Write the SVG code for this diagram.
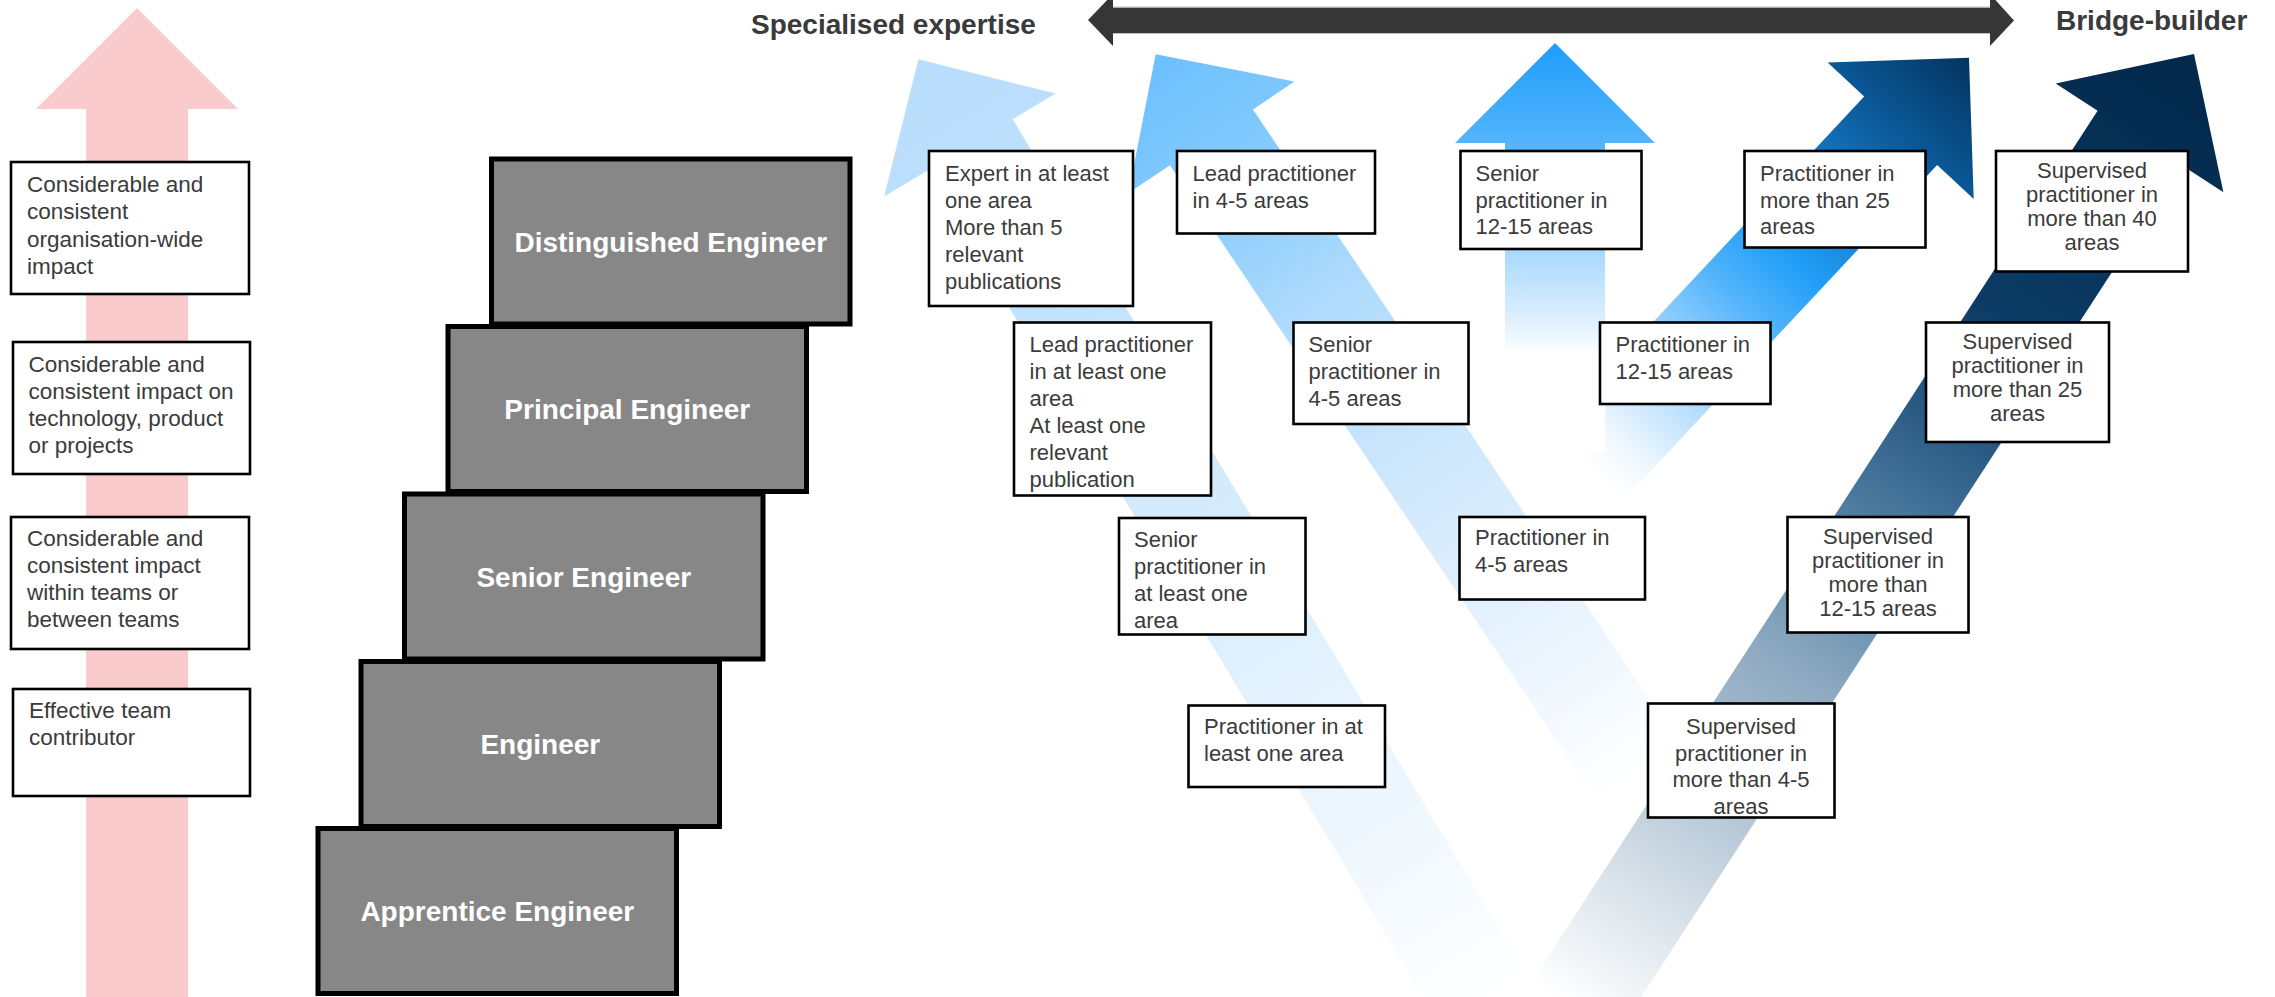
<svg xmlns="http://www.w3.org/2000/svg" width="2275" height="997" viewBox="0 0 2275 997">
  <defs>
    <style>
      .t { font-family: "Liberation Sans", Arial, sans-serif; font-size: 22px; fill: #3b3b3b; }
      .lt { font-size: 22.5px; }
      .c { text-anchor: middle; }
      .box { fill: #ffffff; stroke: #000000; stroke-width: 2.6; }
      .step { fill: #878787; stroke: #000000; stroke-width: 5; }
      .stept { font-family: "Liberation Sans", Arial, sans-serif; font-weight: bold; font-size: 28px; fill: #ffffff; text-anchor: middle; }
      .label { font-family: "Liberation Sans", Arial, sans-serif; font-weight: bold; font-size: 28px; fill: #3a3a3a; }
    </style>
    <!-- gradients are in each arrow's local frame: tip at 0, tail at +y -->
    <linearGradient id="g1" gradientUnits="userSpaceOnUse" x1="0" y1="0" x2="0" y2="1110">
      <stop offset="0" stop-color="#b8ddfc"/>
      <stop offset="0.25" stop-color="#c1e2fc"/>
      <stop offset="0.5" stop-color="#d6ecfd"/>
      <stop offset="0.75" stop-color="#eaf5fe"/>
      <stop offset="1" stop-color="#ffffff"/>
    </linearGradient>
    <linearGradient id="g2" gradientUnits="userSpaceOnUse" x1="0" y1="0" x2="0" y2="870">
      <stop offset="0" stop-color="#6bbffe"/>
      <stop offset="0.15" stop-color="#82cafd"/>
      <stop offset="0.35" stop-color="#b0dbfc"/>
      <stop offset="0.55" stop-color="#cde7fc"/>
      <stop offset="0.8" stop-color="#e9f4fe"/>
      <stop offset="1" stop-color="#ffffff"/>
    </linearGradient>
    <linearGradient id="g3" gradientUnits="userSpaceOnUse" x1="0" y1="0" x2="0" y2="410">
      <stop offset="0" stop-color="#1f9dfa"/>
      <stop offset="0.24" stop-color="#52b4fd"/>
      <stop offset="0.5" stop-color="#a5d8fc"/>
      <stop offset="0.62" stop-color="#cbe8fd"/>
      <stop offset="0.72" stop-color="#eef7fe"/>
      <stop offset="0.76" stop-color="#ffffff"/>
      <stop offset="1" stop-color="#ffffff"/>
    </linearGradient>
    <linearGradient id="g4" gradientUnits="userSpaceOnUse" x1="0" y1="0" x2="0" y2="560">
      <stop offset="0" stop-color="#02355f"/>
      <stop offset="0.18" stop-color="#0b5898"/>
      <stop offset="0.32" stop-color="#1478c4"/>
      <stop offset="0.48" stop-color="#219ef8"/>
      <stop offset="0.6" stop-color="#55b5fc"/>
      <stop offset="0.7" stop-color="#8acbfd"/>
      <stop offset="0.83" stop-color="#c5e5fd"/>
      <stop offset="0.93" stop-color="#f0f8ff"/>
      <stop offset="1" stop-color="#ffffff"/>
    </linearGradient>
    <linearGradient id="g5" gradientUnits="userSpaceOnUse" x1="0" y1="0" x2="0" y2="1140">
      <stop offset="0" stop-color="#02284a"/>
      <stop offset="0.28" stop-color="#0b3b64"/>
      <stop offset="0.36" stop-color="#1f5079"/>
      <stop offset="0.44" stop-color="#3a6a92"/>
      <stop offset="0.53" stop-color="#5a86a8"/>
      <stop offset="0.64" stop-color="#8ca8c0"/>
      <stop offset="0.78" stop-color="#b5c7d6"/>
      <stop offset="0.91" stop-color="#e2e9ef"/>
      <stop offset="1" stop-color="#ffffff"/>
    </linearGradient>
  </defs>

  <rect width="2275" height="997" fill="#ffffff"/>

  <!-- impact scale arrow -->
  <g id="impact-arrow">
    <polygon points="137,8 238,109 188,109 188,997 86,997 86,109 36,109" fill="#f9cbcd"/>
  </g>

  <!-- impact descriptions -->
  <g id="impact-org">
    <rect class="box" x="11" y="162" width="238" height="132"/>
    <text class="t lt"><tspan x="27" y="191.5">Considerable and</tspan><tspan x="27" y="219">consistent</tspan><tspan x="27" y="246.5">organisation-wide</tspan><tspan x="27" y="273.5">impact</tspan></text>
  </g>
  <g id="impact-tech">
    <rect class="box" x="13" y="342" width="237" height="132"/>
    <text class="t lt"><tspan x="28.5" y="371.5">Considerable and</tspan><tspan x="28.5" y="398.8">consistent impact on</tspan><tspan x="28.5" y="426">technology, product</tspan><tspan x="28.5" y="453.3">or projects</tspan></text>
  </g>
  <g id="impact-teams">
    <rect class="box" x="11" y="517" width="238" height="132"/>
    <text class="t lt"><tspan x="27" y="546">Considerable and</tspan><tspan x="27" y="573">consistent impact</tspan><tspan x="27" y="600">within teams or</tspan><tspan x="27" y="627">between teams</tspan></text>
  </g>
  <g id="impact-contributor">
    <rect class="box" x="13" y="689" width="237" height="107"/>
    <text class="t lt"><tspan x="29" y="717.5">Effective team</tspan><tspan x="29" y="744.5">contributor</tspan></text>
  </g>

  <!-- engineering grades as a staircase -->
  <g id="grade-apprentice">
    <rect class="step" x="318" y="828.5" width="358.5" height="165"/>
    <text class="stept" x="497.3" y="921">Apprentice Engineer</text>
  </g>
  <g id="grade-engineer">
    <rect class="step" x="361" y="661.5" width="358.5" height="165"/>
    <text class="stept" x="540.3" y="754">Engineer</text>
  </g>
  <g id="grade-senior">
    <rect class="step" x="404.5" y="494" width="358.5" height="165"/>
    <text class="stept" x="583.8" y="586.5">Senior Engineer</text>
  </g>
  <g id="grade-principal">
    <rect class="step" x="448" y="326.5" width="358.5" height="165"/>
    <text class="stept" x="627.3" y="419">Principal Engineer</text>
  </g>
  <g id="grade-distinguished">
    <rect class="step" x="491.5" y="159" width="358.5" height="165"/>
    <text class="stept" x="670.8" y="251.5">Distinguished Engineer</text>
  </g>

  <!-- specialist / generalist axis -->
  <g id="axis">
    <polygon points="1088,20 1113,-6 1113,7.5 1990,7.5 1990,-6 2014,20.5 1990,46 1990,33 1113,33 1113,46" fill="#363636"/>
    <line x1="1113" y1="7" x2="1990" y2="7" stroke="#bdbdbd" stroke-width="1"/>
    <line x1="1113" y1="33.5" x2="1990" y2="33.5" stroke="#bdbdbd" stroke-width="1"/>
    <text class="label" x="751" y="34">Specialised expertise</text>
    <text class="label" x="2056" y="30">Bridge-builder</text>
  </g>

  <!-- career path arrows -->
  <g id="connectors">
    <polygon transform="translate(1969,57.7) rotate(43.1)" points="0,0 100,100 50,100 50,560 -50,560 -50,100 -100,100" fill="url(#g4)"/>
    <polygon transform="translate(1555,43) rotate(0)" points="0,0 100,100 50,100 50,410 -50,410 -50,100 -100,100" fill="url(#g3)"/>
    <polygon transform="translate(1155.7,54.3) rotate(-33.9)" points="0,0 100,100 50,100 50,870 -50,870 -50,100 -100,100" fill="url(#g2)"/>
    <polygon transform="translate(918.4,59.3) rotate(-31)" points="0,0 100,100 50,100 50,1110 -50,1110 -50,100 -100,100" fill="url(#g1)"/>
    <polygon transform="translate(2194,54) rotate(33)" points="0,0 100,100 50,100 50,1140 -50,1140 -50,100 -100,100" fill="url(#g5)"/>
  </g>

  <!-- skill milestones -->
  <g id="expert-one-area">
    <rect class="box" x="929" y="151" width="204" height="155"/>
    <text class="t"><tspan x="945" y="181">Expert in at least</tspan><tspan x="945" y="208">one area</tspan><tspan x="945" y="235">More than 5</tspan><tspan x="945" y="262">relevant</tspan><tspan x="945" y="289">publications</tspan></text>
  </g>
  <g id="lead-4-5">
    <rect class="box" x="1177" y="151" width="198" height="82.5"/>
    <text class="t"><tspan x="1192.5" y="181">Lead practitioner</tspan><tspan x="1192.5" y="208">in 4-5 areas</tspan></text>
  </g>
  <g id="senior-12-15">
    <rect class="box" x="1460.5" y="151" width="181" height="98"/>
    <text class="t"><tspan x="1475.5" y="181">Senior</tspan><tspan x="1475.5" y="207.5">practitioner in</tspan><tspan x="1475.5" y="234">12-15 areas</tspan></text>
  </g>
  <g id="practitioner-25">
    <rect class="box" x="1744.5" y="151" width="181" height="96.5"/>
    <text class="t"><tspan x="1760" y="181">Practitioner in</tspan><tspan x="1760" y="207.5">more than 25</tspan><tspan x="1760" y="234">areas</tspan></text>
  </g>
  <g id="supervised-40">
    <rect class="box" x="1996" y="151" width="192" height="120.5"/>
    <text class="t c"><tspan x="2092" y="178">Supervised</tspan><tspan x="2092" y="202">practitioner in</tspan><tspan x="2092" y="226">more than 40</tspan><tspan x="2092" y="250">areas</tspan></text>
  </g>

  <g id="lead-one-area">
    <rect class="box" x="1014" y="322.5" width="197" height="173"/>
    <text class="t"><tspan x="1029.5" y="352">Lead practitioner</tspan><tspan x="1029.5" y="379">in at least one</tspan><tspan x="1029.5" y="406">area</tspan><tspan x="1029.5" y="433">At least one</tspan><tspan x="1029.5" y="460">relevant</tspan><tspan x="1029.5" y="487">publication</tspan></text>
  </g>
  <g id="senior-4-5">
    <rect class="box" x="1293.5" y="322.5" width="175" height="101.5"/>
    <text class="t"><tspan x="1308.5" y="352">Senior</tspan><tspan x="1308.5" y="379">practitioner in</tspan><tspan x="1308.5" y="406">4-5 areas</tspan></text>
  </g>
  <g id="practitioner-12-15">
    <rect class="box" x="1600" y="322.5" width="170.5" height="81.5"/>
    <text class="t"><tspan x="1615.5" y="352">Practitioner in</tspan><tspan x="1615.5" y="378.5">12-15 areas</tspan></text>
  </g>
  <g id="supervised-25">
    <rect class="box" x="1926" y="322.5" width="183" height="119.5"/>
    <text class="t c"><tspan x="2017.5" y="349">Supervised</tspan><tspan x="2017.5" y="373">practitioner in</tspan><tspan x="2017.5" y="397">more than 25</tspan><tspan x="2017.5" y="421">areas</tspan></text>
  </g>

  <g id="senior-one-area">
    <rect class="box" x="1119" y="518" width="186.5" height="116.5"/>
    <text class="t"><tspan x="1134" y="546.5">Senior</tspan><tspan x="1134" y="573.5">practitioner in</tspan><tspan x="1134" y="600.5">at least one</tspan><tspan x="1134" y="627.5">area</tspan></text>
  </g>
  <g id="practitioner-4-5">
    <rect class="box" x="1459.5" y="517" width="185.5" height="82.5"/>
    <text class="t"><tspan x="1475" y="545">Practitioner in</tspan><tspan x="1475" y="572">4-5 areas</tspan></text>
  </g>
  <g id="supervised-12-15">
    <rect class="box" x="1787.5" y="517" width="181" height="115.5"/>
    <text class="t c"><tspan x="1878" y="543.5">Supervised</tspan><tspan x="1878" y="567.5">practitioner in</tspan><tspan x="1878" y="591.5">more than</tspan><tspan x="1878" y="615.5">12-15 areas</tspan></text>
  </g>

  <g id="practitioner-one-area">
    <rect class="box" x="1188.5" y="705.5" width="196.5" height="81.5"/>
    <text class="t"><tspan x="1204" y="734">Practitioner in at</tspan><tspan x="1204" y="761">least one area</tspan></text>
  </g>
  <g id="supervised-4-5">
    <rect class="box" x="1648" y="703.5" width="186.5" height="114"/>
    <text class="t c"><tspan x="1741" y="733.5">Supervised</tspan><tspan x="1741" y="760.5">practitioner in</tspan><tspan x="1741" y="787">more than 4-5</tspan><tspan x="1741" y="813.5">areas</tspan></text>
  </g>
</svg>
